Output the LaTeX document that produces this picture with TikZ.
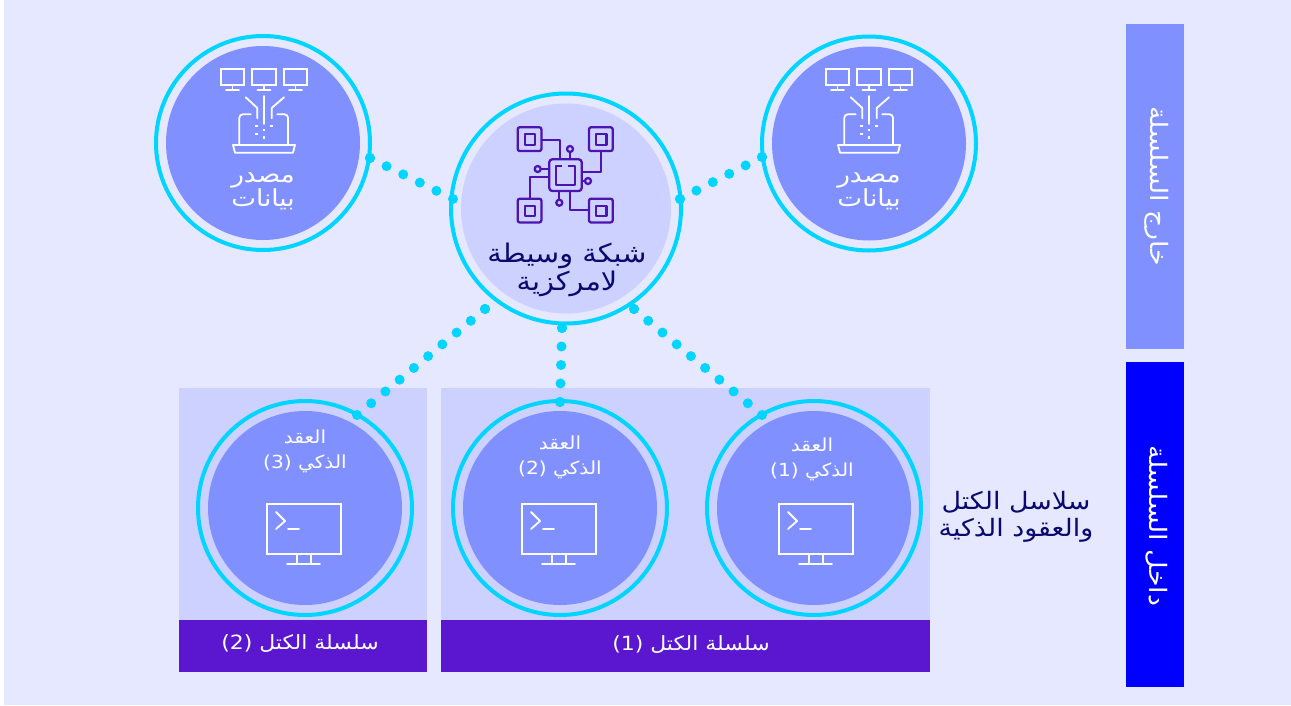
\documentclass[tikz,border=0pt]{standalone}
\usepackage{fontspec}
\TeXXeTstate=1
\newfontfamily\arabicfont[Script=Arabic,FakeStretch=1.12]{DejaVu Sans}
\newcommand{\ar}[1]{\beginR #1\endR}
\definecolor{bgc}{HTML}{E5E8FF}
\definecolor{lightc}{HTML}{CCD1FF}
\definecolor{midc}{HTML}{8091FF}
\definecolor{bluec}{HTML}{0000FF}
\definecolor{purplec}{HTML}{5B17D0}
\definecolor{cyanc}{HTML}{00D5FF}
\definecolor{navyc}{HTML}{0A0A6E}
\tikzset{
  ringnode/.style={circle,draw=cyanc,line width=4pt,inner sep=0pt,outer sep=0pt,minimum size=#1*1pt},
  discnode/.style={circle,fill=#1,draw=none,inner sep=0pt,outer sep=0pt},
  boxnode/.style={rectangle,fill=#1,draw=none,inner sep=0pt,outer sep=0pt,anchor=north west},
  lab/.style 2 args={text=white,font=\arabicfont\fontsize{#1}{#2}\selectfont,align=center,inner sep=0pt},
  darklab/.style 2 args={text=navyc,font=\arabicfont\fontsize{#1}{#2}\selectfont,align=center,inner sep=0pt},
  dotend/.style={circle,fill=cyanc,draw=none,minimum size=10pt,inner sep=0pt,outer sep=0pt},
  dotlink/.style={draw=cyanc,line width=10pt,line cap=round,dash pattern=on 0pt off #1pt},
  iconline/.style={draw=white,line width=1.8pt,line cap=round,line join=round},
  chipline/.style={draw=purplec!85!black,line width=2.3pt,line join=round},
  termicon/.pic={
    \draw[iconline,line cap=butt,line join=miter] (0,0) rectangle (74,50);
    \draw[iconline] (9,8) -- (18,17) -- (9,25);
    \draw[iconline] (21,25) -- (32,25);
    \draw[iconline] (30,50) -- (30,60) (44,50) -- (44,60) (20,60) -- (53,60);
  },
  srcicon/.pic={
    \foreach \dx in {0,31.5,63}{
      \draw[iconline,line join=miter] (220.7+\dx,68.7) rectangle (244.3+\dx,85);
      \draw[iconline] (232.5+\dx,85) -- (232.5+\dx,90) (226+\dx,90) -- (239+\dx,90);
    }
    \draw[iconline] (264,96) -- (264,124);
    \draw[iconline] (245.7,97.3) -- (257.3,108) -- (257.3,118.3);
    \draw[iconline] (284,97.3) -- (271.7,108) -- (271.7,118.3);
    \draw[iconline,rounded corners=3.5pt] (250.7,114.3) -- (239.3,114.3) -- (239.3,145);
    \draw[iconline,rounded corners=3.5pt] (277.3,114.3) -- (288,114.3) -- (288,145);
    \draw[iconline] (233,145) -- (295,145) -- (293,152.7) -- (235,152.7) -- cycle;
    \foreach \px/\py in {256.7/126,256.7/134,264/130,264/137.7,271.7/126}{
      \fill[white] (\px-1.3,\py-1.3) rectangle (\px+1.3,\py+1.3);
    }
  },
}
\begin{document}
\begin{tikzpicture}[x=1pt,y=-1pt]
\useasboundingbox (0,0) rectangle (1291,705);
\fill[white] (0,0) rectangle (1291,705);
\node[boxnode=bgc,minimum width=1287pt,minimum height=705pt] (panel) at (4,0) {};
\node[boxnode=midc,minimum width=58pt,minimum height=325pt] (barout) at (1126,24) {};
\node[boxnode=bluec,minimum width=58pt,minimum height=325pt] (barin) at (1126,362) {};
\node[lab={24}{28},rotate=-90] (tout) at (1157,186) {\ar{خارج السلسلة}};
\node[lab={24}{28},rotate=-90] (tin) at (1157,526) {\ar{داخل السلسلة}};
% chain panels
\node[boxnode=lightc,minimum width=248pt,minimum height=232pt] (chainB) at (179,388) {};
\node[boxnode=lightc,minimum width=489pt,minimum height=232pt] (chainA) at (441,388) {};
\node[boxnode=purplec,minimum width=248pt,minimum height=52pt] (chainBbar) at (179,620) {};
\node[boxnode=purplec,minimum width=489pt,minimum height=52pt] (chainAbar) at (441,620) {};
\node[lab={19.6}{24}] (chainBlab) at (300,644) {\ar{سلسلة الكتل \beginL(2)\endL}};
\node[lab={19.6}{24}] (chainAlab) at (691,645) {\ar{سلسلة الكتل \beginL(1)\endL}};
% top circles
\node[discnode=midc,minimum size=194pt] (srcLd) at (263,143) {};
\node[ringnode=214] (srcL) at (263,143) {};
\node[discnode=midc,minimum size=194pt] (srcRd) at (869,143.5) {};
\node[ringnode=214] (srcR) at (869,143.5) {};
\node[discnode=lightc,minimum size=210pt] (hubd) at (566,208.5) {};
\node[ringnode=230] (hub) at (566,208.5) {};
% bottom circles
\node[discnode=midc,minimum size=194pt] (c1d) at (814,508) {};
\node[ringnode=214] (c1) at (814,508) {};
\node[discnode=midc,minimum size=194pt] (c2d) at (560,508) {};
\node[ringnode=214] (c2) at (560,508) {};
\node[discnode=midc,minimum size=194pt] (c3d) at (305,508) {};
\node[ringnode=214] (c3) at (305,508) {};
% icons
\pic at (0,0) {srcicon};
\pic at (605,0) {srcicon};
\pic at (779,504) {termicon};
\pic at (522,504) {termicon};
\pic at (267,504) {termicon};
% chip icon
\foreach \qx/\qy in {517.7/127.3,589/127.3,517.7/198.7,589/198.7}{
  \draw[chipline,rounded corners=2pt] (\qx,\qy) rectangle (\qx+23.7,\qy+23.7);
  \draw[chipline] (\qx+7,\qy+7) rectangle (\qx+17.5,\qy+17.5);
}
\draw[chipline,rounded corners=3pt] (549.3,159.3) rectangle (581.7,191);
\draw[chipline] (562,165.7) -- (555.7,165.7) -- (555.7,185) -- (575,185) -- (575,165.7) -- (568,165.7);
\draw[chipline] (541.4,140) -- (560,140) -- (560,159.3);
\draw[chipline] (601,151) -- (601,172.3) -- (581.7,172.3);
\draw[chipline] (530,198.7) -- (530,177.3) -- (549.3,177.3);
\draw[chipline] (570,191) -- (570,210.3) -- (589,210.3);
\draw[chipline] (570,152) -- (570,159.3);
\draw[chipline] (570,149) circle[radius=3];
\draw[chipline] (540.7,169) -- (549.3,169);
\draw[chipline] (537.7,169) circle[radius=3];
\draw[chipline] (581.7,181) -- (585,181);
\draw[chipline] (588,181) circle[radius=3];
\draw[chipline] (559.3,191) -- (559.3,199.7);
\draw[chipline] (559.3,202.7) circle[radius=3];
% labels
\node[lab={23.5}{24}] (srcLt) at (263,191) {\ar{مصدر}\\\ar{بيانات}};
\node[lab={23.5}{24}] (srcRt) at (869,191) {\ar{مصدر}\\\ar{بيانات}};
\node[darklab={25.7}{28}] (hubt) at (567,270) {\ar{شبكة وسيطة}\\\ar{لامركزية}};
\node[lab={18}{25}] (c1t) at (812,459) {\ar{العقد}\\\ar{الذكي \beginL(1)\endL}};
\node[lab={18}{25}] (c2t) at (560,457) {\ar{العقد}\\\ar{الذكي \beginL(2)\endL}};
\node[lab={18}{25}] (c3t) at (305,451) {\ar{العقد}\\\ar{الذكي \beginL(3)\endL}};
\node[darklab={24}{27}] (sidet) at (1016,516.5) {\ar{سلاسل الكتل}\\\ar{والعقود الذكية}};
% dotted connectors
\node[dotend] (a1) at (370,158) {};
\node[dotend] (a2) at (453,199) {};
\node[dotend] (b1) at (762,157) {};
\node[dotend] (b2) at (680,199) {};
\node[dotend] (e1) at (485,309) {};
\node[dotend] (e2) at (357,415) {};
\node[dotend] (f1) at (562,328) {};
\node[dotend] (f2) at (560,402) {};
\node[dotend] (g1) at (634,309) {};
\node[dotend] (g2) at (762,415) {};
\draw[dotlink=18.52] (a1.center) -- (a2.center);
\draw[dotlink=18.42] (b1.center) -- (b2.center);
\draw[dotlink=18.47] (e1.center) -- (e2.center);
\draw[dotlink=18.5] (f1.center) -- (f2.center);
\draw[dotlink=18.47] (g1.center) -- (g2.center);
\end{tikzpicture}
\end{document}
